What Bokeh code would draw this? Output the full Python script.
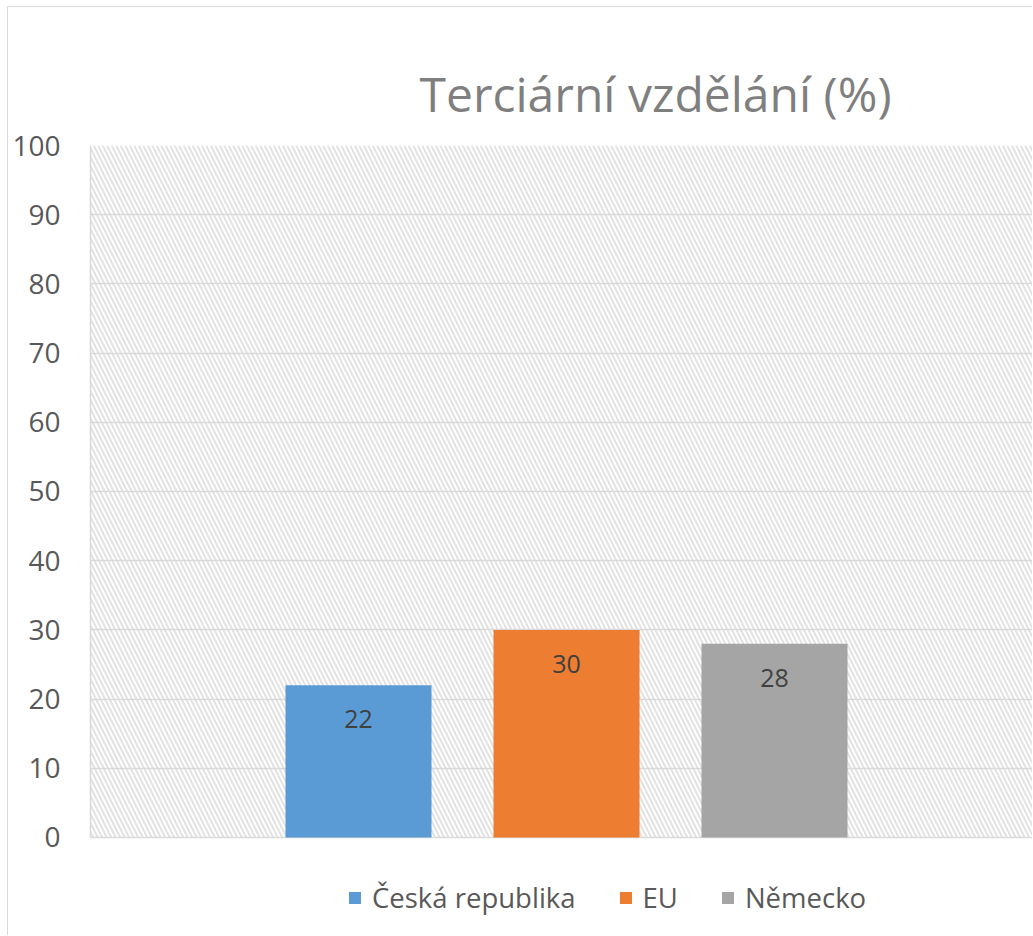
from bokeh.plotting import figure
from bokeh.models import (Range1d, FixedTicker, BoxAnnotation, LabelSet, ColumnDataSource,
                          Legend, LegendItem)
from bokeh.core.properties import value
from bokeh.embed import file_html
from bokeh.resources import INLINE

# data
categories = ["Česká republika", "EU", "Německo"]
values = [22, 30, 28]
colors = ["#5B9BD5", "#ED7D31", "#A5A5A5"]
y_ticks = [0, 10, 20, 30, 40, 50, 60, 70, 80, 90, 100]
title_text = "Terciární vzdělání (%)"

FONT = "Open Sans"

positions = list(range(len(categories)))
src = ColumnDataSource(dict(x=positions, top=values, color=colors,
                            label=[str(v) for v in values], cat=categories))

p = figure(width=1025, height=929, output_backend="svg", toolbar_location=None,
           x_range=Range1d(-1.2885, 3.2452), y_range=Range1d(-14.31, 100),
           min_border_left=82, min_border_right=0, min_border_top=138,
           min_border_bottom=0, title=title_text)

p.styles = {"margin-left": "7px", "margin-top": "6px",
            "border-left": "1px solid #d9d9d9", "border-top": "1px solid #d9d9d9"}

p.title.text_font = FONT
p.title.text_font_size = "48px"
p.title.text_font_style = "normal"
p.title.text_color = "#7f7f7f"
p.title.align = "left"
p.title.offset = 329
p.title.standoff = 39

p.outline_line_color = None
p.background_fill_color = "white"
p.border_fill_color = "white"

# hatched plot area (0..100)
p.add_layout(BoxAnnotation(level="image", bottom=0, top=100, fill_color="white", fill_alpha=1,
                           line_color=None, hatch_pattern="left_diagonal_line",
                           hatch_color="#e2e2e2", hatch_weight=2, hatch_scale=9))

p.xaxis.visible = False
p.xgrid.grid_line_color = None

p.yaxis.ticker = FixedTicker(ticks=y_ticks)
p.yaxis.bounds = (0, 100)
p.ygrid.ticker = FixedTicker(ticks=y_ticks)
p.ygrid.grid_line_color = "#d9d9d9"
p.ygrid.grid_line_width = 1.5
p.yaxis.axis_line_color = "#d9d9d9"
p.yaxis.axis_line_width = 1.5
p.yaxis.major_tick_line_color = None
p.yaxis.minor_tick_line_color = None
p.yaxis.major_tick_out = 0
p.yaxis.major_tick_in = 0
p.yaxis.major_label_standoff = 30
p.yaxis.major_label_text_font = FONT
p.yaxis.major_label_text_font_size = "28px"
p.yaxis.major_label_text_color = "#595959"

r = p.vbar(x="x", top="top", width=0.702, color="color", source=src, line_color=None)

p.add_layout(LabelSet(x="x", y="top", text="label", source=src, y_offset=-34,
                      text_align="center", text_baseline="middle",
                      text_font=value(FONT), text_font_size=value("25px"), text_color="#404040"))

legend = Legend(items=[LegendItem(label=c, renderers=[r], index=i) for i, c in enumerate(categories)],
                orientation="horizontal", location=(257, 20),
                label_text_font=FONT, label_text_font_size="27.5px", label_text_color="#595959",
                glyph_width=15, glyph_height=15, label_standoff=10, spacing=42,
                border_line_color=None, background_fill_alpha=0, margin=0, padding=0)
p.add_layout(legend, "center")

open("out.html", "w").write(file_html(p, INLINE))
